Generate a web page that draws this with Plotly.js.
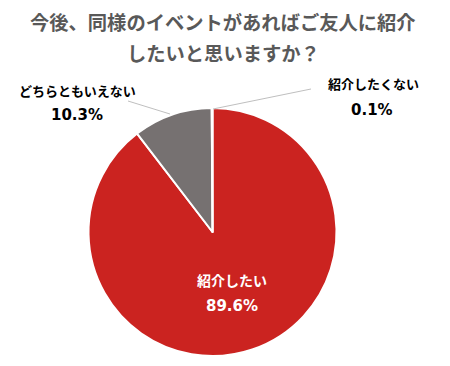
<!DOCTYPE html>
<html>
<head>
<meta charset="utf-8">
<script src="https://cdn.plot.ly/plotly-3.0.1.min.js"></script>
<style>html,body{margin:0;padding:0;background:#fff;}#chart{width:450px;height:366px;}</style>
</head>
<body>
<div id="chart"></div>
<script>
const labels = ['紹介したい', 'どちらともいえない', '紹介したくない'];
const values = [89.6, 10.3, 0.1];
const colors = ['#CB2320', '#767171', '#4472C4'];
const titleLines = ['今後、同様のイベントがあればご友人に紹介', 'したいと思いますか？'];

const W = 450, H = 366;
const px = x => x / W;
const py = y => 1 - y / H;
const font = 'Noto Sans CJK JP, sans-serif';
const numFont = 'DejaVu Sans, Noto Sans CJK JP, sans-serif';

const trace = {
  type: 'pie',
  labels: labels,
  values: values,
  marker: {colors: colors, line: {color: '#ffffff', width: 2}},
  sort: false,
  direction: 'clockwise',
  rotation: 0,
  textinfo: 'none',
  hoverinfo: 'label+percent',
  domain: {x: [px(88.5), px(336.5)], y: [py(356), py(108)]},
  showlegend: false
};

function fmt(v){ return v.toFixed(1) + '%'; }

const annotations = [
  {text: '<b>' + titleLines[0] + '</b>', x: px(223), y: py(22), font: {size: 19.3, color: '#595959', family: font}},
  {text: '<b>' + titleLines[1] + '</b>', x: px(223), y: py(53), font: {size: 19.3, color: '#595959', family: font}},
  {text: '<b>' + labels[0] + '</b>', x: px(232), y: py(280), font: {size: 14, color: '#ffffff', family: font}},
  {text: '<b>' + fmt(values[0]) + '</b>', x: px(232), y: py(306), font: {size: 15, color: '#ffffff', family: numFont}},
  {text: '<b>' + labels[1] + '</b>', x: px(77), y: py(90), font: {size: 13, color: '#000000', family: font}},
  {text: '<b>' + fmt(values[1]) + '</b>', x: px(77), y: py(115), font: {size: 15, color: '#000000', family: numFont}},
  {text: '<b>' + labels[2] + '</b>', x: px(373), y: py(83), font: {size: 13, color: '#000000', family: font}},
  {text: '<b>' + fmt(values[2]) + '</b>', x: px(372), y: py(110), font: {size: 15, color: '#000000', family: numFont}}
].map(a => Object.assign({xref: 'paper', yref: 'paper', showarrow: false, xanchor: 'center', yanchor: 'middle'}, a));

const shapes = [
  {type: 'line', xref: 'paper', yref: 'paper', x0: px(128), y0: py(101), x1: px(170), y1: py(114), line: {color: '#BFBFBF', width: 1}},
  {type: 'line', xref: 'paper', yref: 'paper', x0: px(213), y0: py(109), x1: px(311), y1: py(89), line: {color: '#BFBFBF', width: 1}}
];

const layout = {
  width: W, height: H,
  margin: {l: 0, r: 0, t: 0, b: 0},
  paper_bgcolor: '#ffffff',
  plot_bgcolor: '#ffffff',
  annotations: annotations,
  shapes: shapes,
  font: {family: font}
};

Plotly.newPlot('chart', [trace], layout, {displayModeBar: false, staticPlot: true});
</script>
</body>
</html>
